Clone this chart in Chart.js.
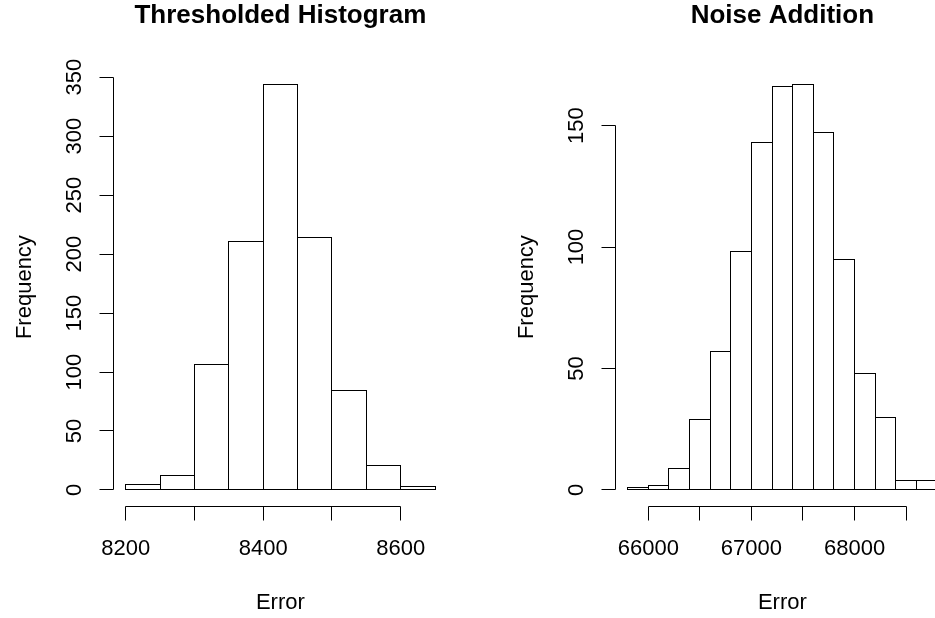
<!DOCTYPE html>
<html>
<head>
<meta charset="utf-8">
<title>Histograms</title>
<script src="https://cdn.jsdelivr.net/npm/chart.js@4.4.1/dist/chart.umd.min.js"></script>
<style>
  html, body { margin: 0; padding: 0; background: #fff; }
  body { width: 935px; height: 618px; overflow: hidden; position: relative; }
  canvas { position: absolute; top: 0; }
  #left { left: 0; }
  #right { left: 502px; }
</style>
</head>
<body>
<canvas id="left" width="502" height="618"></canvas>
<canvas id="right" width="502" height="618"></canvas>
<script>
// left panel
const thrBreaks = [8200, 8250, 8300, 8350, 8400, 8450, 8500, 8550, 8600, 8650];
const thrCounts = [5, 12, 106, 211, 344, 214, 84, 21, 3];
const thrXTicks = [8200, 8300, 8400, 8500, 8600];
const thrXLabels = ['8200', '', '8400', '', '8600'];
const thrYTicks = [0, 50, 100, 150, 200, 250, 300, 350];

// right panel
const noiseBreaks = [65800, 66000, 66200, 66400, 66600, 66800, 67000, 67200, 67400,
  67600, 67800, 68000, 68200, 68400, 68600, 68800];
const noiseCounts = [1, 2, 9, 29, 57, 98, 143, 166, 167, 147, 95, 48, 30, 4, 4];
const noiseXTicks = [66000, 66500, 67000, 67500, 68000, 68500];
const noiseXLabels = ['66000', '', '67000', '', '68000', ''];
const noiseYTicks = [0, 50, 100, 150];

const FONT = '"Liberation Sans", Arial, Helvetica, sans-serif';
const snap = v => Math.floor(v) + 0.5;

// R style axes, bar outlines and titles
function rStyle(title, xLabels) {
  return {
    id: 'rstyle',
    afterDatasetsDraw(chart) {
      const ctx = chart.ctx;
      const xs = chart.scales.x, ys = chart.scales.y;
      const area = chart.chartArea;
      ctx.save();
      ctx.strokeStyle = '#000';
      ctx.fillStyle = '#000';
      ctx.lineWidth = 1;

      // outline of each bar
      chart.getDatasetMeta(0).data.forEach(bar => {
        const p = bar.getProps(['x', 'y', 'base', 'width'], true);
        const l = snap(p.x - p.width / 2), r = snap(p.x + p.width / 2);
        const t = snap(p.y), b = snap(p.base);
        ctx.strokeRect(l, t, r - l, b - t);
      });

      // y axis
      const ax = snap(area.left);
      const yt = ys.ticks.map(t => snap(ys.getPixelForValue(t.value)));
      ctx.beginPath();
      ctx.moveTo(ax, yt[0]);
      ctx.lineTo(ax, yt[yt.length - 1]);
      yt.forEach(py => { ctx.moveTo(ax, py); ctx.lineTo(ax - 14, py); });
      ctx.stroke();

      // x axis
      const ay = snap(area.bottom);
      const xt = xs.ticks.map(t => snap(xs.getPixelForValue(t.value)));
      ctx.beginPath();
      ctx.moveTo(xt[0], ay);
      ctx.lineTo(xt[xt.length - 1], ay);
      xt.forEach(px => { ctx.moveTo(px, ay); ctx.lineTo(px, ay + 14); });
      ctx.stroke();

      // tick labels
      ctx.font = '22px ' + FONT;
      ctx.textAlign = 'center';
      ctx.textBaseline = 'alphabetic';
      xs.ticks.forEach((t, i) => {
        if (xLabels[i]) ctx.fillText(xLabels[i], xs.getPixelForValue(t.value), area.bottom + 49);
      });
      ys.ticks.forEach(t => {
        ctx.save();
        ctx.translate(area.left - 32, ys.getPixelForValue(t.value));
        ctx.rotate(-Math.PI / 2);
        ctx.fillText(String(t.value), 0, 0);
        ctx.restore();
      });

      // axis titles
      const cx = (area.left + area.right) / 2;
      const cy = (area.top + area.bottom) / 2;
      ctx.fillText('Error', cx, area.bottom + 103);
      ctx.save();
      ctx.translate(area.left - 82, cy);
      ctx.rotate(-Math.PI / 2);
      ctx.fillText('Frequency', 0, 0);
      ctx.restore();

      // main title
      ctx.font = 'bold 26px ' + FONT;
      ctx.fillText(title, cx, area.top - 45);
      ctx.restore();
    }
  };
}

function histogram(canvasId, title, breaks, counts, xTicks, xLabels, yTicks) {
  const lo = breaks[0], hi = breaks[breaks.length - 1];
  const top = Math.max(...counts);
  const xPad = (hi - lo) * 0.04, yPad = top * 0.04;
  const points = counts.map((c, i) => ({ x: (breaks[i] + breaks[i + 1]) / 2, y: c }));

  return new Chart(document.getElementById(canvasId), {
    type: 'bar',
    data: {
      datasets: [{
        data: points,
        backgroundColor: '#fff',
        borderWidth: 0,
        barPercentage: 1,
        categoryPercentage: 1
      }]
    },
    options: {
      responsive: false,
      animation: false,
      events: [],
      layout: { padding: { left: 113.3, right: 54.6, top: 68, bottom: 111.8 } },
      plugins: { legend: { display: false }, tooltip: { enabled: false }, title: { display: false } },
      scales: {
        x: {
          type: 'linear', display: false, offset: false,
          min: lo - xPad, max: hi + xPad,
          afterBuildTicks: s => { s.ticks = xTicks.map(v => ({ value: v })); }
        },
        y: {
          type: 'linear', display: false,
          min: -yPad, max: top + yPad,
          afterBuildTicks: s => { s.ticks = yTicks.map(v => ({ value: v })); }
        }
      }
    },
    plugins: [rStyle(title, xLabels)]
  });
}

histogram('left', 'Thresholded Histogram', thrBreaks, thrCounts, thrXTicks, thrXLabels, thrYTicks);
histogram('right', 'Noise Addition', noiseBreaks, noiseCounts, noiseXTicks, noiseXLabels, noiseYTicks);
</script>
</body>
</html>
